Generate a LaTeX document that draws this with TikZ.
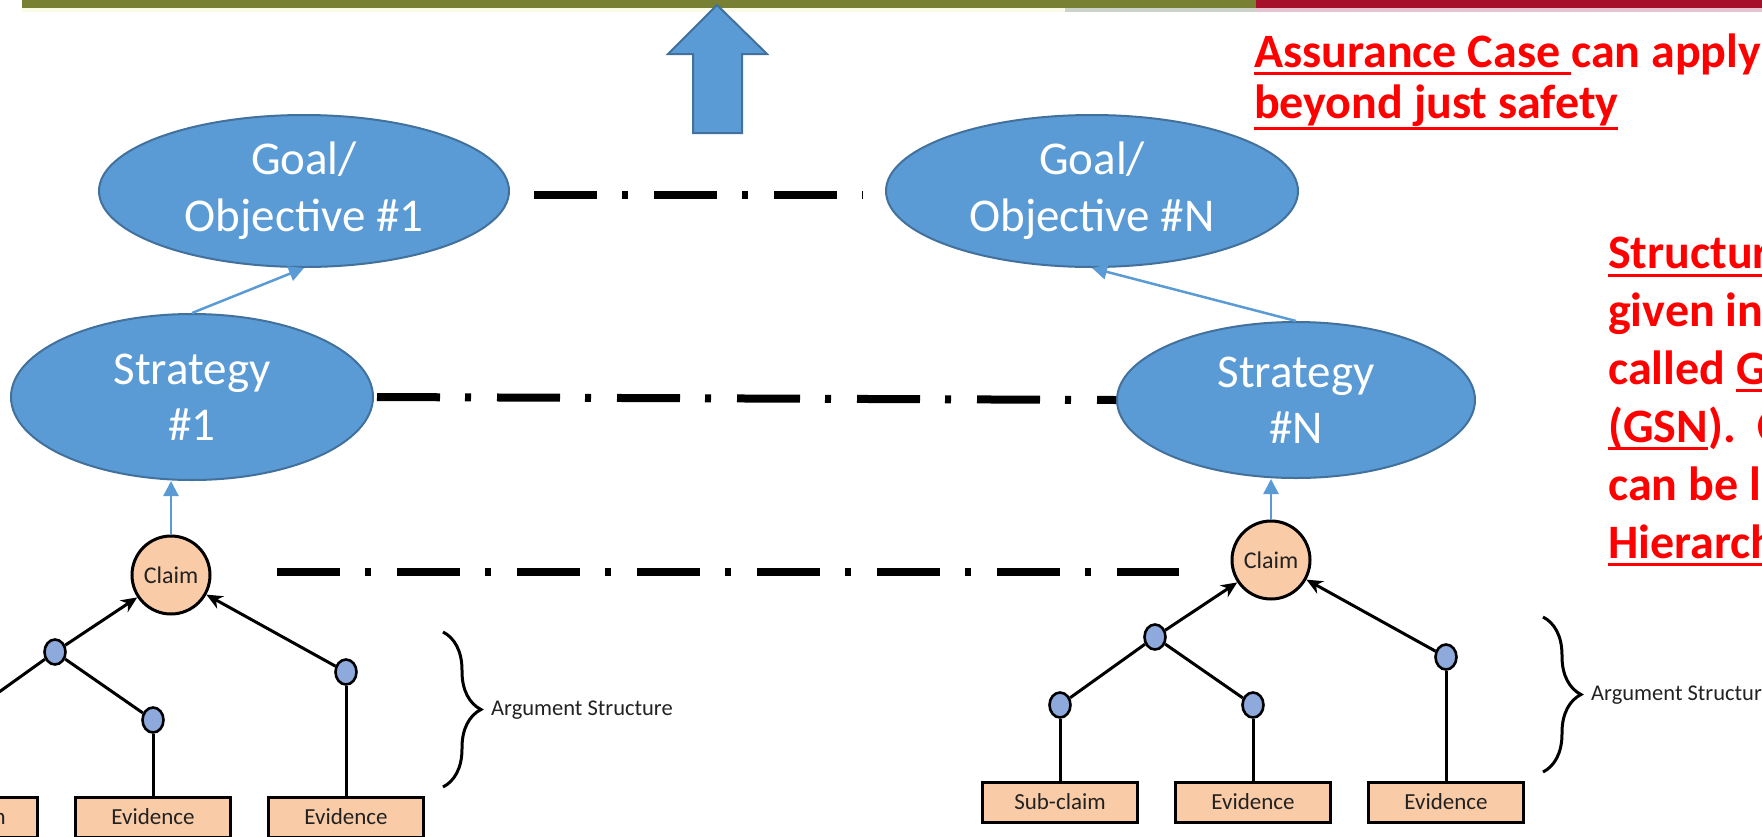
\documentclass[tikz,border=0pt]{standalone}
\usepackage{fontspec}
\setmainfont{Carlito}
\usetikzlibrary{shapes.geometric,arrows.meta,decorations.pathreplacing,calc}

\definecolor{nodeblue}{HTML}{5B9BD5}
\definecolor{nodeedge}{HTML}{41719C}
\definecolor{peach}{HTML}{F9CBA7}
\definecolor{dotblue}{HTML}{8EA9DB}
\definecolor{barolive}{HTML}{788034}
\definecolor{barred}{HTML}{A6102B}
\definecolor{stripyellow}{HTML}{FAFBE6}
\definecolor{stripgray}{HTML}{CBD3CB}
\definecolor{strippink}{HTML}{E6C3D1}
\definecolor{alertred}{HTML}{FF0000}
\definecolor{inkgray}{HTML}{222222}

% underline with a fixed drop below the baseline
\newsavebox\ulbox
\newcommand\ulin[2][8pt]{\sbox\ulbox{#2}\rlap{\rule[-#1]{\wd\ulbox}{3pt}}\usebox\ulbox}

\tikzset{
  goal/.style={ellipse, draw=nodeedge, line width=2pt, fill=nodeblue, text=white,
    font=\fontsize{47}{57}\selectfont, align=center, inner sep=0pt},
  strat/.style={goal, font=\fontsize{47}{56}\selectfont},
  claim/.style={circle, draw=black, line width=3pt, fill=peach, minimum size=78pt,
    inner sep=0pt, text=inkgray, font=\fontsize{24}{28}\selectfont},
  joint/.style={ellipse, draw=black, line width=2.6pt, fill=dotblue,
    minimum width=21pt, minimum height=25pt, inner sep=0pt},
  leaf/.style={rectangle, draw=black, line width=3pt, fill=peach, minimum width=155pt,
    minimum height=40pt, inner sep=0pt, text=inkgray, font=\fontsize{23}{27}\selectfont},
  link/.style={line width=3pt, black},
  support/.style={link, -{Stealth[length=16pt,width=14pt,inset=5pt]}},
  upblue/.style={nodeblue, line width=2.5pt, -{Triangle[length=15pt,width=15pt]}},
  levelline/.style={line width=8pt, black, dash pattern=on 63pt off 25pt on 6pt off 26pt},
  bracket/.style={decorate, decoration={brace, amplitude=38pt}, line width=3pt, black},
  bracelabel/.style={anchor=west, inner sep=0pt, text=inkgray, font=\fontsize{22.5}{26}\selectfont},
  redtext/.style={anchor=base west, inner sep=0pt, text=alertred,
    font=\fontsize{48}{52}\selectfont\bfseries}
}

% one argument tree: claim, joints, leaves and the brace label
\newcommand\argtree[3]{%
  \begin{scope}[shift={(#2,#3)}]
    \node[claim] (#1c) at (0,0) {Claim};
    \node[joint] (#1a) at (-116,77) {};
    \node[joint] (#1b) at (-18,145) {};
    \node[joint] (#1j) at (175,97) {};
    \node[joint] (#1d) at (-211,145) {};
    \node[leaf] (#1s) at (-211,242) {Sub-claim};
    \node[leaf] (#1e) at (-18,242) {Evidence};
    \node[leaf] (#1f) at (175,242) {Evidence};
    \draw[support] (#1a) -- (#1c);
    \draw[support] (#1j) -- (#1c);
    \draw[link] (#1d) -- (#1a);
    \draw[link] (#1a) -- (#1b);
    \draw[link] (#1d) -- (#1s);
    \draw[link] (#1b) -- (#1e);
    \draw[link] (#1j) -- (#1f);
    \coordinate (#1bt) at (272,57);
    \coordinate (#1bb) at (272,212);
    \draw[bracket] (#1bt) -- (#1bb);
    \node[bracelabel] (#1t) at (320,135) {Argument Structure};
  \end{scope}}

\begin{document}
\begin{tikzpicture}[x=1pt,y=-1pt]
  \useasboundingbox (0,0) rectangle (1762,836);
  \clip (0,0) rectangle (1762,836);
  \fill[white] (0,0) rectangle (1762,836);

  % title bar
  \fill[barolive] (22,0) rectangle (1256,8);
  \fill[barred] (1256,0) rectangle (1762,8);
  \fill[stripyellow] (22,8) rectangle (1065,12);
  \fill[stripgray] (1065,8) rectangle (1256,12);
  \fill[strippink] (1256,8) rectangle (1762,12);

  % block arrow pointing up
  \filldraw[fill=nodeblue, draw=nodeedge, line width=2pt, line join=miter]
    (717,5) -- (767,54) -- (742,54) -- (742,133) -- (693,133) -- (693,54) -- (668,54) -- cycle;

  % goals and strategies
  \node[goal, minimum width=410pt, minimum height=152pt] (g1) at (304,191) {Goal/\\Objective \#1};
  \node[goal, minimum width=412pt, minimum height=152pt] (gN) at (1092,191) {Goal/\\Objective \#N};
  \node[strat, minimum width=362pt, minimum height=166pt] (s1) at (192,397) {Strategy\\\#1};
  \node[strat, minimum width=358pt, minimum height=156pt] (sN) at (1296,400) {Strategy\\\#N};

  % argument trees
  \argtree{L}{171}{575}
  \argtree{R}{1271}{560}

  % links up the hierarchy
  \draw[upblue] (s1.north) -- (g1.south);
  \draw[upblue] (sN.north) -- (gN.south);
  \draw[upblue] (Lc.north) -- (Lc.north |- s1.south);
  \draw[upblue] (Rc.north) -- (Rc.north |- sN.south);

  % level lines
  \draw[levelline] ([shift={(24,4)}]g1.east) -- ([shift={(-22,4)}]gN.west);
  \draw[levelline] ([xshift=3pt]s1.east) -- (sN.west);
  \draw[levelline] ([shift={(65,-3)}]Lc.east) -- ([shift={(-52,12)}]Rc.west);

  % notes
  \node[redtext] (n1) at (1254,67) {\ulin{Assurance Case\ }can apply};
  \node[redtext] (n2) at (1254,118) {\ulin[12pt]{beyond just safety}};
  \node[redtext] (m1) at (1608,268) {\ulin[9pt]{Structur}};
  \node[redtext] (m2) at (1608,326) {given in};
  \node[redtext] (m3) at (1608,384) {called \ulin{G}};
  \node[redtext] (m4) at (1608,442) {\ulin{(GSN}).\hspace{22pt}C};
  \node[redtext] (m5) at (1608,500) {can be l};
  \node[redtext] (m6) at (1608,558) {\ulin{Hierarch}};
\end{tikzpicture}
\end{document}
